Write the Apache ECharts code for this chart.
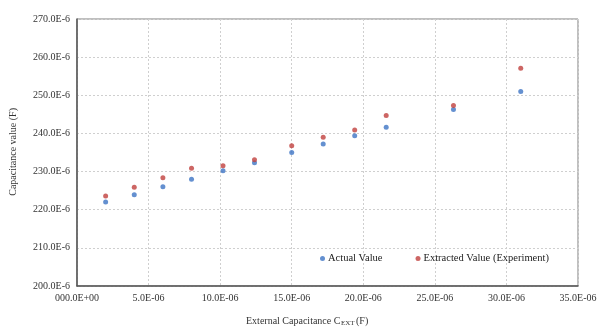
<!DOCTYPE html>
<html>
<head>
<meta charset="utf-8">
<script src="https://cdn.jsdelivr.net/npm/echarts@6/dist/echarts.min.js"></script>
<style>html,body{margin:0;padding:0;background:#fff;}#c{width:600px;height:334px;}</style>
</head>
<body>
<div id="c"></div>
<script>
// x values in units of 1E-6 F
var xValues = [2.0, 4.0, 6.0, 8.0, 10.2, 12.4, 15.0, 17.2, 19.4, 21.6, 26.3, 31.0];
// y values in units of 1E-6 F
var actualValues = [222.0, 223.9, 226.0, 228.0, 230.2, 232.3, 235.0, 237.2, 239.4, 241.6, 246.3, 251.0];
var extractedValues = [223.6, 225.9, 228.4, 230.9, 231.5, 233.1, 236.8, 239.0, 240.9, 244.7, 247.3, 257.1];
var xTickValues = [0, 5, 10, 15, 20, 25, 30, 35];
var xTickLabels = ['000.0E+00', '5.0E-06', '10.0E-06', '15.0E-06', '20.0E-06', '25.0E-06', '30.0E-06', '35.0E-06'];
var yTickValues = [200, 210, 220, 230, 240, 250, 260, 270];
var yTickLabels = ['200.0E-6', '210.0E-6', '220.0E-6', '230.0E-6', '240.0E-6', '250.0E-6', '260.0E-6', '270.0E-6'];
var seriesNames = ['Actual Value', 'Extracted Value (Experiment)'];

function pair(xs, ys) { return xs.map(function (x, i) { return [x, ys[i]]; }); }
var FONT = '"Liberation Serif", "Times New Roman", serif';
var chart = echarts.init(document.getElementById('c'));
chart.setOption({
  animation: false,
  backgroundColor: '#fff',
  grid: { left: 77, right: 22, top: 19, bottom: 48, show: true, borderColor: '#7f7f7f', borderWidth: 1 },
  legend: {
    left: 315, top: 248, icon: 'circle', itemWidth: 5, itemHeight: 5, itemGap: 33,
    textStyle: { fontFamily: FONT, fontSize: 10.5, color: '#222', padding: [0, 0, 0, -2] },
    data: seriesNames
  },
  xAxis: {
    type: 'value', min: 0, max: 35, interval: 5,
    axisLine: { show: true, lineStyle: { color: '#555', width: 1.5 } },
    axisTick: { show: false },
    splitLine: { show: true, lineStyle: { color: '#cfcfcf', type: [2, 2] } },
    axisLabel: {
      margin: 7, fontFamily: FONT, fontSize: 10, color: '#333',
      formatter: function (v) { var i = xTickValues.indexOf(v); return i >= 0 ? xTickLabels[i] : ''; }
    }
  },
  yAxis: {
    type: 'value', min: 200, max: 270, interval: 10,
    axisLine: { show: true, lineStyle: { color: '#555', width: 1.5 } },
    axisTick: { show: false },
    splitLine: { show: true, lineStyle: { color: '#cfcfcf', type: [2, 2] } },
    axisLabel: {
      margin: 7, fontFamily: FONT, fontSize: 10, color: '#333',
      formatter: function (v) { var i = yTickValues.indexOf(v); return i >= 0 ? yTickLabels[i] : ''; }
    }
  },
  graphic: [
    {
      type: 'text', left: 8, top: 108, rotation: Math.PI / 2,
      style: { text: 'Capacitance value (F)', font: '10px ' + FONT, fill: '#333' }
    },
    {
      type: 'group', left: 246, top: 316,
      children: [
        { type: 'text', x: 0, y: 0, style: { text: 'External Capacitance C', font: '10px ' + FONT, fill: '#333' } },
        { type: 'text', x: 95, y: 4, style: { text: 'EXT', font: '7px ' + FONT, fill: '#333' } },
        { type: 'text', x: 110, y: 0, style: { text: '(F)', font: '10px ' + FONT, fill: '#333' } }
      ]
    }
  ],
  series: [
    {
      name: seriesNames[0], type: 'scatter', symbolSize: 5,
      itemStyle: { color: '#3d74c4' }, data: pair(xValues, actualValues)
    },
    {
      name: seriesNames[1], type: 'scatter', symbolSize: 5,
      itemStyle: { color: '#c0403d' }, data: pair(xValues, extractedValues)
    }
  ]
});
</script>
</body>
</html>
